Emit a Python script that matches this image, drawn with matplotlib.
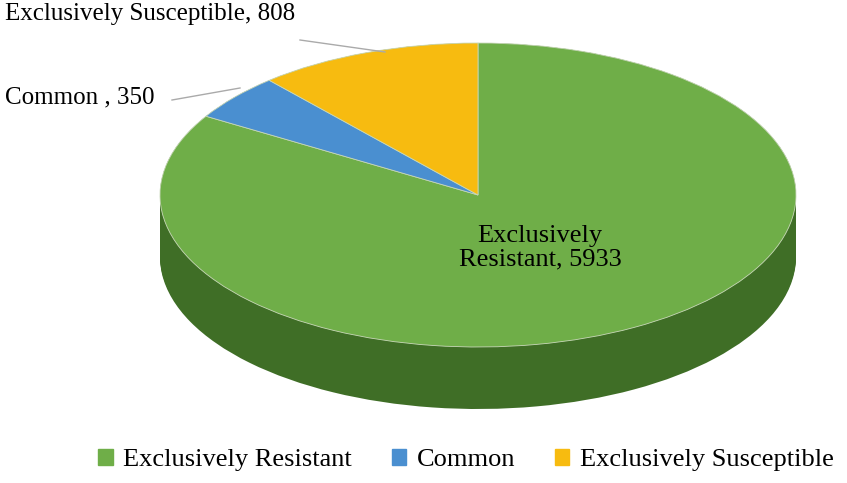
import numpy as np
import matplotlib.pyplot as plt
from matplotlib.patches import Patch

plt.rcParams['font.family'] = ['Liberation Serif', 'DejaVu Serif']

categories = ["Exclusively Resistant", "Common", "Exclusively Susceptible"]
values = [5933, 350, 808]
top_colors = ['#6fae48', '#4a8fd0', '#f7bb10']
side_colors = ['#3f6e26', '#2c5a8a', '#b88a00']

fig = plt.figure(figsize=(8.47, 4.83), dpi=100)
ax = fig.add_axes([0, 0, 1, 1])

# pie ellipse geometry in pixel terms
cx, cy, rx, ry, depth = 478, 195, 318, 152, 62

# side of the cylinder: stack of darker pies shifted down
for d in np.linspace(depth / ry, 0, 40):
    ax.pie(values, colors=side_colors, startangle=90, counterclock=False,
           center=(0, -d), radius=1, wedgeprops=dict(linewidth=0))
# top face
ax.pie(values, colors=top_colors, startangle=90, counterclock=False,
       center=(0, 0), radius=1,
       wedgeprops=dict(linewidth=0.6, edgecolor='#c8d8b8'))

ax.set_aspect('auto')
ax.set_xlim(-cx / rx, (847 - cx) / rx)
ax.set_ylim(-(483 - cy) / ry, cy / ry)
ax.axis('off')

def px(x, y):
    return x / 847, 1 - y / 483

fig.text(*px(540, 248), "Exclusively\nResistant, %d" % values[0], ha='center',
         va='center', fontsize=19, linespacing=1.1)
fig.text(*px(5, 97), "Common , %d" % values[1], ha='left', va='center', fontsize=18)
fig.text(*px(5, 14), "Exclusively Susceptible, %d" % values[2], ha='left',
         va='center', fontsize=18)
fig.add_artist(plt.Line2D([172 / 847, 240 / 847], [1 - 100 / 483, 1 - 88 / 483],
                          color='#aaaaaa', lw=1))
fig.add_artist(plt.Line2D([300 / 847, 385 / 847], [1 - 40 / 483, 1 - 52 / 483],
                          color='#aaaaaa', lw=1))

handles = [Patch(color=c) for c in top_colors]
fig.legend(handles, categories, loc='center', bbox_to_anchor=(0.55, 1 - 460 / 483),
           ncol=3, frameon=False, fontsize=19, handlelength=0.55, handleheight=0.55,
           columnspacing=1.5, handletextpad=0.4)

fig.savefig('out.png', dpi=100)
